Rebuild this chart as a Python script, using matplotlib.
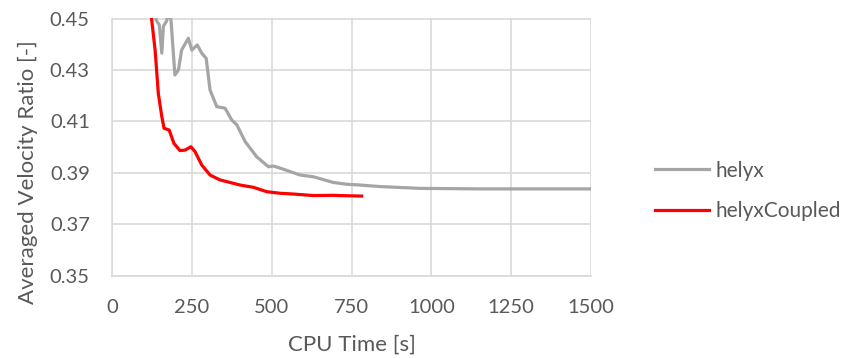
import matplotlib.pyplot as plt

plt.rcParams['font.family'] = ['Lato', 'DejaVu Sans']

# helyx run: CPU time [s] vs averaged velocity ratio
helyx_t = [130, 138, 148, 156, 161, 171, 178, 185, 197, 208, 218, 239, 250, 267, 281,
           295, 307, 328, 354, 375, 391, 417, 453, 490, 505, 526, 589, 631, 693, 735,
           777, 840, 965, 1153, 1300, 1500]
helyx_v = [0.470, 0.4494, 0.4475, 0.4365, 0.4470, 0.4490, 0.4530, 0.4490, 0.4280, 0.4300,
           0.4377, 0.4423, 0.4377, 0.4397, 0.4365, 0.4345, 0.4222, 0.4157, 0.4151, 0.4105,
           0.4086, 0.4021, 0.3962, 0.3923, 0.3926, 0.3918, 0.3891, 0.3884, 0.3862, 0.3855,
           0.3852, 0.3846, 0.3839, 0.3837, 0.3837, 0.3837]

# helyxCoupled run
coupled_t = [115, 124, 135, 145, 156, 163, 179, 194, 213, 229, 247, 260, 281, 307, 338,
             401, 443, 485, 526, 568, 631, 693, 714, 782]
coupled_v = [0.480, 0.4498, 0.4377, 0.4209, 0.4118, 0.4073, 0.4066, 0.4014, 0.3986, 0.3988,
             0.4001, 0.3982, 0.3930, 0.3891, 0.3872, 0.3852, 0.3843, 0.3826, 0.3820, 0.3817,
             0.3811, 0.3812, 0.3811, 0.3809]

x_ticks = [0, 250, 500, 750, 1000, 1250, 1500]
y_ticks = [0.35, 0.37, 0.39, 0.41, 0.43, 0.45]

txt = '#595959'
grid = '#D9D9D9'

fig = plt.figure(figsize=(8.48, 3.58), dpi=100)
ax = fig.add_axes([112 / 848, 1 - 275.5 / 358, 479 / 848, 257 / 358])

ax.plot(helyx_t, helyx_v, color='#A5A5A5', lw=2.3, label='helyx', solid_joinstyle='round')
ax.plot(coupled_t, coupled_v, color='#FF0000', lw=2.3, label='helyxCoupled', solid_joinstyle='round')

ax.set_xlim(0, 1500)
ax.set_ylim(0.35, 0.45)
ax.set_xticks(x_ticks)
ax.set_yticks(y_ticks)
ax.set_yticklabels([f'{v:.2f}' for v in y_ticks])
ax.grid(True, color=grid, lw=1.2)
ax.set_axisbelow(True)
for s in ax.spines.values():
    s.set_visible(False)
for side in ('left', 'bottom'):
    ax.spines[side].set_visible(True)
    ax.spines[side].set_color(grid)
    ax.spines[side].set_linewidth(1.2)
ax.tick_params(length=0, labelsize=14.5, colors=txt)
ax.tick_params(axis='y', pad=16)
ax.tick_params(axis='x', pad=17)

fig.text(351.5 / 848, 1 - 345 / 358, 'CPU Time [s]', ha='center', va='center',
         fontsize=16, color=txt)
fig.text(28 / 848, 1 - 172 / 358, 'Averaged Velocity Ratio [-]', ha='center', va='center',
         rotation=90, fontsize=16, color=txt)

fig.legend(loc='center left', bbox_to_anchor=(655 / 848, 1 - 191 / 358), frameon=False,
           fontsize=15, handlelength=2.6, handletextpad=0.3, labelspacing=1.0,
           borderpad=0, borderaxespad=0, labelcolor=txt)

fig.savefig('out.png', dpi=100)
